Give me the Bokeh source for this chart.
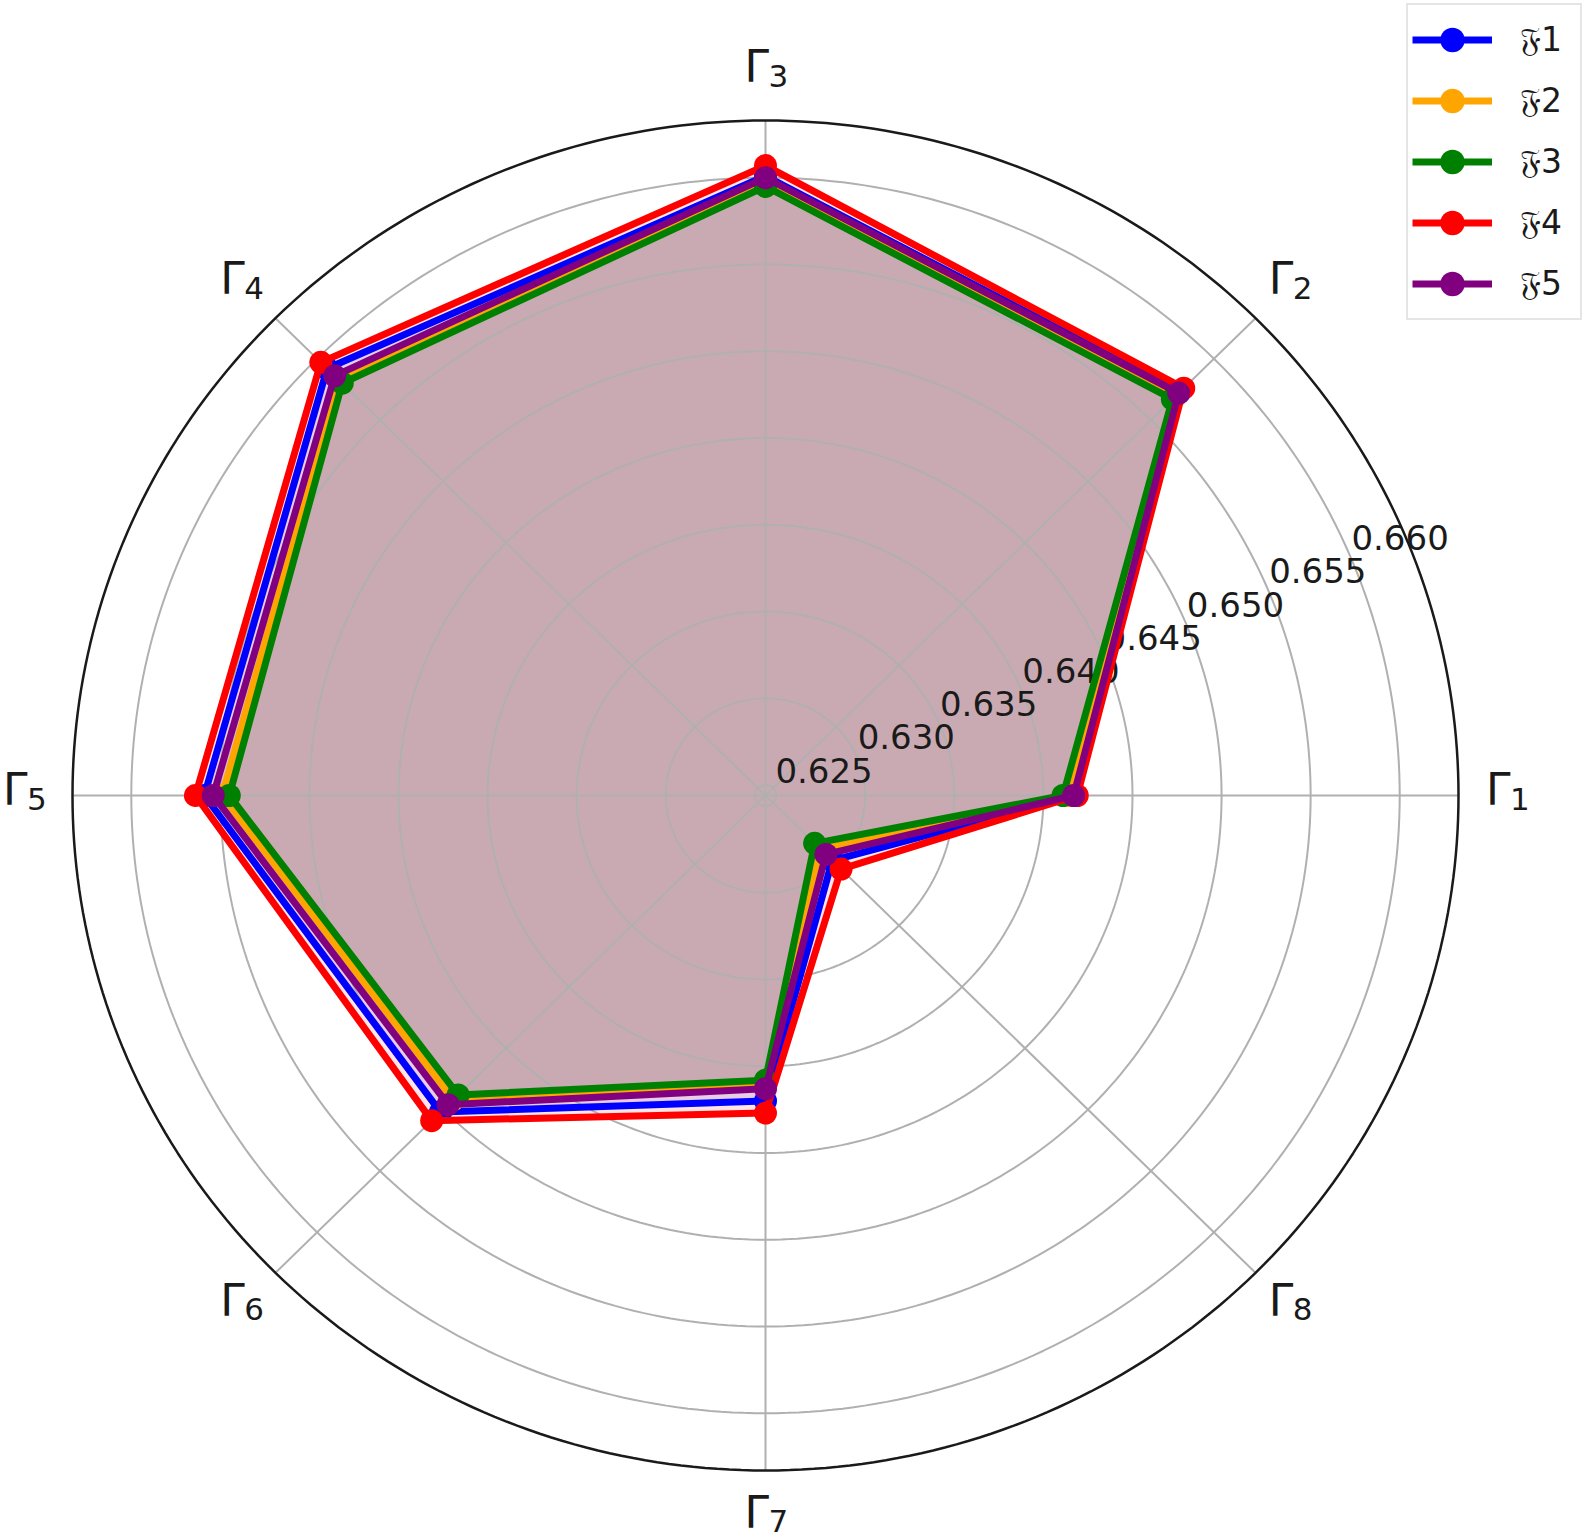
import numpy as np
from bokeh.plotting import figure
from bokeh.models import Range1d, Legend, LegendItem
from bokeh.embed import file_html
from bokeh.resources import INLINE
from bokeh.core.properties import value

# ---------------- data ----------------
categories = ["Γ1", "Γ2", "Γ3", "Γ4", "Γ5", "Γ6", "Γ7", "Γ8"]
series_names = ["𝔉1", "𝔉2", "𝔉3", "𝔉4", "𝔉5"]
series_colors = ["blue", "orange", "green", "red", "purple"]

f1 = [0.6418, 0.6573, 0.6601, 0.6592, 0.6559, 0.6502, 0.6420, 0.6297]
f2 = [0.6414, 0.6570, 0.6597, 0.6583, 0.6549, 0.6492, 0.6410, 0.6288]
f3 = [0.6411, 0.6567, 0.6595, 0.6580, 0.6545, 0.6488, 0.6408, 0.6283]
f4 = [0.6419, 0.6576, 0.6607, 0.6597, 0.6564, 0.6509, 0.6427, 0.6304]
f5 = [0.6417, 0.6572, 0.6600, 0.6586, 0.6554, 0.6496, 0.6413, 0.6292]
series_values = [f1, f2, f3, f4, f5]

radial_ticks = [0.625, 0.630, 0.635, 0.640, 0.645, 0.650, 0.655, 0.660]
radial_tick_labels = ["0.625", "0.630", "0.635", "0.640", "0.645", "0.650", "0.655", "0.660"]
r_min, r_max = 0.6244, 0.6633

# ---------------- geometry helpers ----------------
n = len(categories)
theta = np.arange(n) * 2 * np.pi / n


def rnorm(v):
    return (np.asarray(v, dtype=float) - r_min) / (r_max - r_min)


W, H = 1585, 1538
cx, cy = 765, 795          # centre in figure pixels (from top-left)
sx, sy = 693.0, 675.0      # pixels per unit radius
x_range = Range1d(-cx / sx, (W - cx) / sx)
y_range = Range1d(-(H - cy) / sy, cy / sy)

p = figure(width=W, height=H, x_range=x_range, y_range=y_range,
           output_backend="svg", toolbar_location=None, min_border=0,
           x_axis_type=None, y_axis_type=None)
p.grid.visible = False
p.outline_line_color = None
p.background_fill_color = "white"
p.border_fill_color = "white"

# fills (drawn beneath grid, as matplotlib does)
for vals, col in zip(series_values, series_colors):
    r = rnorm(vals)
    p.patch(list(r * np.cos(theta)), list(r * np.sin(theta)),
            fill_color=col, fill_alpha=0.1, line_color=None)

# grid: spokes
p.segment(x0=np.zeros(n), y0=np.zeros(n), x1=np.cos(theta), y1=np.sin(theta),
          line_color="#b0b0b0", line_width=2)

# grid: circles
phi = np.linspace(0, 2 * np.pi, 361)
circ_xs = [list(rnorm(t) * np.cos(phi)) for t in radial_ticks]
circ_ys = [list(rnorm(t) * np.sin(phi)) for t in radial_ticks]
p.multi_line(circ_xs, circ_ys, line_color="#b0b0b0", line_width=2)

# radial tick labels at 22.5 degrees
lab_ang = np.deg2rad(22.5)
rt = rnorm(radial_ticks)
p.text(x=rt * np.cos(lab_ang), y=rt * np.sin(lab_ang), text=radial_tick_labels,
       text_align="left", text_baseline="bottom", y_offset=-9,
       text_font=value("DejaVu Sans"), text_font_size="34px", text_color="#1a1a1a")

# category labels Γ with subscripts
rx_lab, ry_lab = 1.070, 1.0705
lx = rx_lab * np.cos(theta)
ly = ry_lab * np.sin(theta)
p.text(x=lx, y=ly, text=[c[0] for c in categories], x_offset=-21, y_offset=-6,
       text_align="left", text_baseline="alphabetic",
       text_font=value("DejaVu Sans"), text_font_size="44px", text_color="#1a1a1a")
p.text(x=lx, y=ly, text=[c[1:] for c in categories], x_offset=3, y_offset=3,
       text_align="left", text_baseline="alphabetic",
       text_font=value("DejaVu Sans"), text_font_size="31px", text_color="#1a1a1a")

# series lines + markers
items = []
for name, vals, col in zip(series_names, series_values, series_colors):
    r = rnorm(vals)
    xs = list(r * np.cos(theta))
    ys = list(r * np.sin(theta))
    lr = p.line(xs + xs[:1], ys + ys[:1], line_color=col, line_width=7, line_join="round")
    sr = p.scatter(xs, ys, size=23, fill_color=col, line_color=None, marker="circle")
    items.append(LegendItem(label=name, renderers=[lr, sr]))

# outer spine
p.line(list(np.cos(phi)), list(np.sin(phi)), line_color="#1a1a1a", line_width=2.5)

legend = Legend(items=items, location="top_right", glyph_width=80, glyph_height=61,
                spacing=0, padding=4, label_standoff=28, margin=3, label_width=56,
                label_text_font_size="33px", label_text_font="DejaVu Sans",
                label_text_color="#1a1a1a",
                border_line_color="#cccccc", border_line_width=2,
                background_fill_color="white", background_fill_alpha=0.8)
p.add_layout(legend)

open("out.html", "w").write(file_html(p, INLINE))
